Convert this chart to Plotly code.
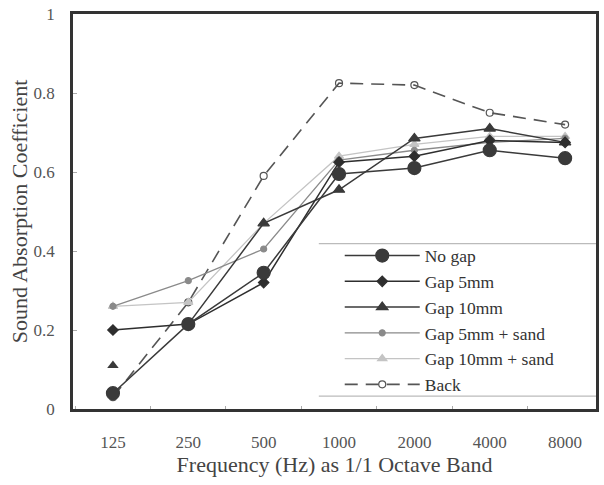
import plotly.graph_objects as go

freqs = ["125", "250", "500", "1000", "2000", "4000", "8000"]
no_gap = [0.04, 0.215, 0.345, 0.595, 0.61, 0.655, 0.635]
gap5 = [0.20, 0.215, 0.32, 0.625, 0.64, 0.68, 0.675]
gap10 = [0.11, 0.215, 0.47, 0.555, 0.685, 0.71, 0.675]
gap5_sand = [0.26, 0.325, 0.405, 0.63, 0.655, 0.675, 0.685]
gap10_sand = [0.26, 0.27, 0.47, 0.64, 0.67, 0.69, 0.69]
back = [0.03, 0.27, 0.59, 0.825, 0.82, 0.75, 0.72]

FONT = "Liberation Serif"
fig = go.Figure()

def add(name, x, y, color, symbol, size, width, dash="solid", fill=None):
    fig.add_trace(go.Scatter(
        x=x, y=y, name=name, mode="lines+markers",
        line=dict(color=color, width=width, dash=dash),
        marker=dict(symbol=symbol, size=size, color=fill or color,
                    line=dict(color=color, width=1.2)),
    ))

add("Back", freqs, back, "#555555", "circle-open", 7, 1.6, dash="13px,8px")
add("Gap 10mm + sand", freqs, gap10_sand, "#c4c4c4", "triangle-up", 8, 1.3)
add("Gap 5mm + sand", freqs, gap5_sand, "#8a8a8a", "circle", 6, 1.3)
# Gap 10mm: the 125 Hz point is drawn unconnected in the original
fig.add_trace(go.Scatter(
    x=freqs[:1], y=gap10[:1], mode="markers", showlegend=False,
    marker=dict(symbol="triangle-up", size=10, color="#3a3a3a"),
))
add("Gap 10mm", freqs[1:], gap10[1:], "#3a3a3a", "triangle-up", 10, 1.5)
add("Gap 5mm", freqs, gap5, "#2e2e2e", "diamond", 8, 1.5)
add("No gap", freqs, no_gap, "#3a3a3a", "circle", 13, 1.5)

fig.update_layout(
    width=604, height=485,
    margin=dict(l=73, r=5, t=10, b=76),
    paper_bgcolor="white", plot_bgcolor="white",
    font=dict(family=FONT, color="#444444", size=17),
    showlegend=True,
    legend=dict(
        traceorder="reversed",
        x=0.51, y=0.4336, xanchor="left", yanchor="top",
        bgcolor="rgba(0,0,0,0)", borderwidth=0,
        font=dict(family=FONT, size=17.5, color="#333333"),
        itemwidth=75, tracegroupgap=0,
    ),
    xaxis=dict(
        type="category", categoryorder="array", categoryarray=freqs,
        range=[-0.53, 6.41],
        showgrid=False, zeroline=False,
        showline=True, mirror=True, linecolor="#333333", linewidth=2.5,
        ticks="inside", ticklen=3, tickcolor="#aaaaaa", tickson="boundaries",
        ticklabelstandoff=16,
        tickfont=dict(family=FONT, size=17, color="#555555"),
        title=dict(text="Frequency (Hz) as 1/1 Octave Band",
                   font=dict(family=FONT, size=22, color="#444444"), standoff=2),
    ),
    yaxis=dict(
        range=[0, 1], tickvals=[0, 0.2, 0.4, 0.6, 0.8, 1],
        ticktext=["0", "0.2", "0.4", "0.6", "0.8", "1"],
        showgrid=False, zeroline=False,
        showline=True, mirror=True, linecolor="#333333", linewidth=2.5,
        ticks="inside", ticklen=4, tickcolor="#aaaaaa",
        ticklabelstandoff=12,
        tickfont=dict(family=FONT, size=17, color="#555555"),
        title=dict(text="Sound Absorption Coefficient",
                   font=dict(family=FONT, size=22, color="#444444"), standoff=0),
    ),
)

for yv in [0.4185, 0.0326]:
    fig.add_shape(type="line", xref="paper", yref="paper",
                  x0=0.47, x1=1.0, y0=yv, y1=yv,
                  line=dict(color="#bbbbbb", width=1.2))

fig.write_html("out.html")
